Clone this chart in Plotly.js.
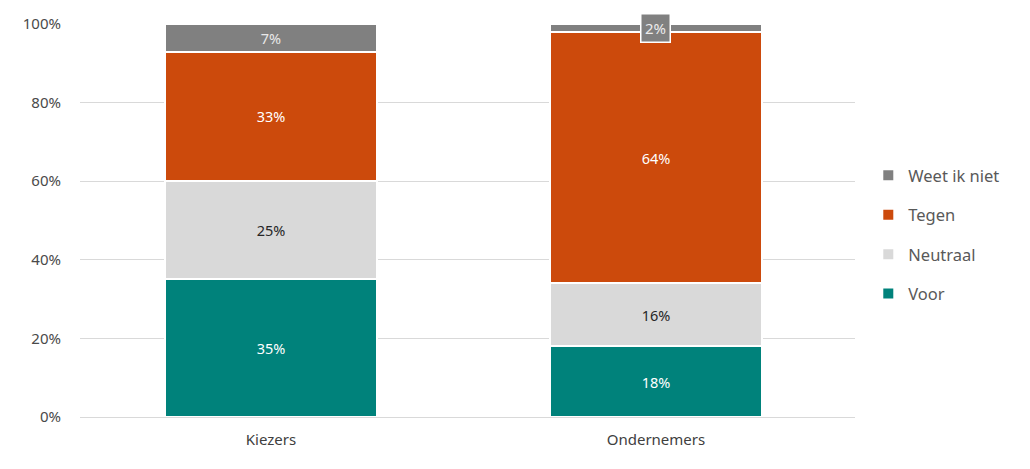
<!DOCTYPE html>
<html><head><meta charset="utf-8">
<script src="https://cdn.plot.ly/plotly-3.0.1.min.js"></script>
<style>html,body{margin:0;padding:0;background:#fff}#c{width:1030px;height:469px}</style>
</head><body><div id="c"></div>
<script>
const categories = ["Kiezers", "Ondernemers"];
const voor = [35, 18];
const neutraal = [25, 16];
const tegen = [33, 64];
const weetIkNiet = [7, 2];
const seriesNames = ["Voor", "Neutraal", "Tegen", "Weet ik niet"];
const seriesColors = ["#00827B", "#D9D9D9", "#CC4A0C", "#808080"];
const textColors = ["#ffffff", "#262626", "#ffffff", "#e8e8e8"];
const yTickVals = [0, 20, 40, 60, 80, 100];
const yTickText = ["0%", "20%", "40%", "60%", "80%", "100%"];

const series = [voor, neutraal, tegen, weetIkNiet];
const font = "Noto Sans, Liberation Sans, Arial, sans-serif";
const traces = series.map((vals, i) => ({
  type: "bar",
  name: seriesNames[i],
  x: categories,
  y: vals,
  legendgroup: "g" + i,
  legendrank: series.length - i,
  marker: {color: seriesColors[i], line: {color: "#ffffff", width: 2}},
  text: vals.map(v => v >= 5 ? v + "%" : ""),
  textposition: "inside",
  insidetextanchor: "middle",
  textangle: 0,
  textfont: {color: textColors[i], size: 14.5, family: font},
  hoverinfo: "skip",
  cliponaxis: false
}));

// small segments get a boxed label
const annotations = [];
series.forEach((vals, i) => {
  vals.forEach((v, j) => {
    if (v < 5) {
      let base = 0;
      for (let k = 0; k < i; k++) base += series[k][j];
      annotations.push({
        x: categories[j], y: base + v / 2, xref: "x", yref: "y",
        text: v + "%", showarrow: false,
        font: {color: "#ececec", size: 15, family: font},
        bgcolor: seriesColors[i], bordercolor: "#ffffff", borderwidth: 1.5, borderpad: 3.5
      });
    }
  });
});

const layout = {
  width: 1030, height: 469,
  margin: {l: 80, r: 175, t: 24, b: 52},
  barmode: "stack",
  bargap: 0.45,
  paper_bgcolor: "#ffffff", plot_bgcolor: "#ffffff",
  font: {family: font, color: "#595959", size: 15},
  xaxis: {
    range: [-0.496, 1.517], showgrid: false, showline: true, linecolor: "#d9d9d9", linewidth: 1,
    ticks: "", ticklabelstandoff: 9, tickfont: {size: 15, color: "#404040"}, fixedrange: true
  },
  yaxis: {
    range: [0, 100], tickvals: yTickVals, ticktext: yTickText,
    showgrid: true, gridcolor: "#d9d9d9", gridwidth: 1, zeroline: false,
    ticks: "", ticklabelstandoff: 18, tickfont: {size: 15, color: "#4a4a4a"}, fixedrange: true
  },
  legend: {
    xref: "container", yref: "container", x: 0.843, y: 0.50, xanchor: "left", yanchor: "middle",
    traceorder: "grouped", tracegroupgap: 15,
    font: {size: 16.5, color: "#595959", family: font}, itemwidth: 30
  },
  annotations: annotations,
  showlegend: true
};
Plotly.newPlot("c", traces, layout, {displayModeBar: false, staticPlot: true});
</script></body></html>
